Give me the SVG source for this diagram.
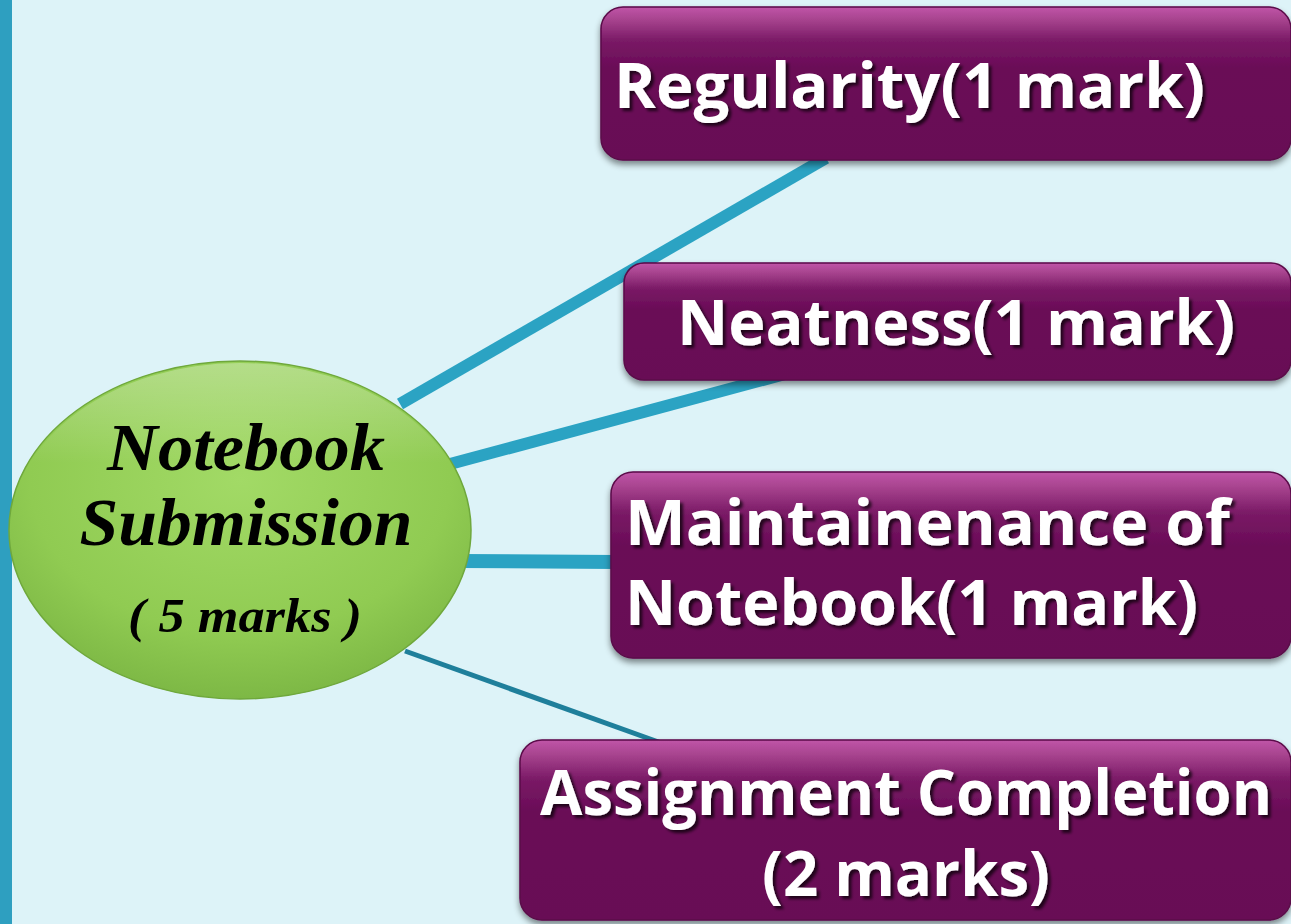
<svg xmlns="http://www.w3.org/2000/svg" width="1291" height="924" viewBox="0 0 1291 924">
<defs>
<linearGradient id="boxg" x1="0" y1="0" x2="0" y2="1">
<stop offset="0" stop-color="#C055A8"/>
<stop offset="0.08" stop-color="#A8448F"/>
<stop offset="0.22" stop-color="#7A1A66"/>
<stop offset="0.4" stop-color="#6A0C57"/>
<stop offset="1" stop-color="#680B55"/>
</linearGradient>
<radialGradient id="ellg" cx="0.5" cy="0.35" r="0.65">
<stop offset="0" stop-color="#A2DA66"/>
<stop offset="0.7" stop-color="#90CB52"/>
<stop offset="1" stop-color="#7DB845"/>
</radialGradient>
<linearGradient id="ellhi" x1="0" y1="0" x2="0" y2="1">
<stop offset="0" stop-color="#FFFFFF" stop-opacity="0.3"/>
<stop offset="0.3" stop-color="#FFFFFF" stop-opacity="0"/>
</linearGradient>
<filter id="boxshadow" x="-5%" y="-10%" width="110%" height="130%">
<feGaussianBlur in="SourceAlpha" stdDeviation="3"/>
<feOffset dx="0" dy="4" result="b"/>
<feFlood flood-color="#000" flood-opacity="0.45"/>
<feComposite in2="b" operator="in"/>
<feMerge><feMergeNode/><feMergeNode in="SourceGraphic"/></feMerge>
</filter>
<filter id="txtshadow" x="-5%" y="-20%" width="110%" height="140%">
<feOffset in="SourceAlpha" dx="3" dy="3" result="o"/>
<feGaussianBlur in="o" stdDeviation="1.5" result="b"/>
<feFlood flood-color="#000" flood-opacity="0.7"/>
<feComposite in2="b" operator="in"/>
<feMerge><feMergeNode/><feMergeNode in="SourceGraphic"/></feMerge>
</filter>
</defs>
<style>
.box{fill:url(#boxg);stroke:#5A0848;stroke-width:1.5;filter:url(#boxshadow)}
.lbl{font-family:"Open Sans","Lato","Liberation Sans",sans-serif;font-weight:bold;fill:#FFFFFF;font-size:62px;filter:url(#txtshadow)}
.script{font-family:"Liberation Serif","DejaVu Serif",serif;font-weight:bold;font-style:italic;fill:#000000;text-anchor:middle}
.conn{stroke:#2BA3C3;fill:none;stroke-linecap:butt}
</style>
<rect x="0" y="0" width="1291" height="924" fill="#DDF3F8"/>
<rect x="0" y="0" width="12" height="924" fill="#2E9FC0"/>
<g id="connectors">
<line class="conn" x1="400" y1="404" x2="826" y2="158" stroke-width="12"/>
<line class="conn" x1="450" y1="464" x2="785" y2="374" stroke-width="12"/>
<line class="conn" x1="460" y1="561" x2="616" y2="562" stroke-width="14"/>
<line class="conn" x1="405" y1="651" x2="664" y2="744" stroke-width="5" style="stroke:#1F7F9B"/>
</g>
<g id="center">
<ellipse cx="240" cy="530" rx="231" ry="169" fill="url(#ellg)" stroke="#6FA83C" stroke-width="1.5"/>
<ellipse cx="240" cy="530" rx="229" ry="167" fill="url(#ellhi)"/>
<text class="script" x="246" y="470" font-size="68" textLength="278" lengthAdjust="spacingAndGlyphs">Notebook</text>
<text class="script" x="246" y="545" font-size="68" textLength="333" lengthAdjust="spacingAndGlyphs">Submission</text>
<text class="script" x="245" y="632" font-size="48" textLength="234" lengthAdjust="spacingAndGlyphs">( 5 marks )</text>
</g>
<g id="regularity">
<rect class="box" x="601" y="7" width="690" height="153" rx="22"/>
<text class="lbl" x="614" y="108" textLength="591" lengthAdjust="spacingAndGlyphs">Regularity(1 mark)</text>
</g>
<g id="neatness">
<rect class="box" x="624" y="263" width="667" height="117" rx="20"/>
<text class="lbl" x="677" y="345" textLength="558" lengthAdjust="spacingAndGlyphs">Neatness(1 mark)</text>
</g>
<g id="maintenance">
<rect class="box" x="611" y="472" width="680" height="186" rx="22"/>
<text class="lbl" x="625" y="545" textLength="605" lengthAdjust="spacingAndGlyphs">Maintainenance of</text>
<text class="lbl" x="625" y="625" textLength="573" lengthAdjust="spacingAndGlyphs">Notebook(1 mark)</text>
</g>
<g id="assignment">
<rect class="box" x="520" y="740" width="771" height="180" rx="22"/>
<text class="lbl" x="540" y="815" font-size="60" textLength="732" lengthAdjust="spacingAndGlyphs">Assignment Completion</text>
<text class="lbl" x="762" y="896" font-size="60" textLength="288" lengthAdjust="spacingAndGlyphs">(2 marks)</text>
</g>
</svg>
